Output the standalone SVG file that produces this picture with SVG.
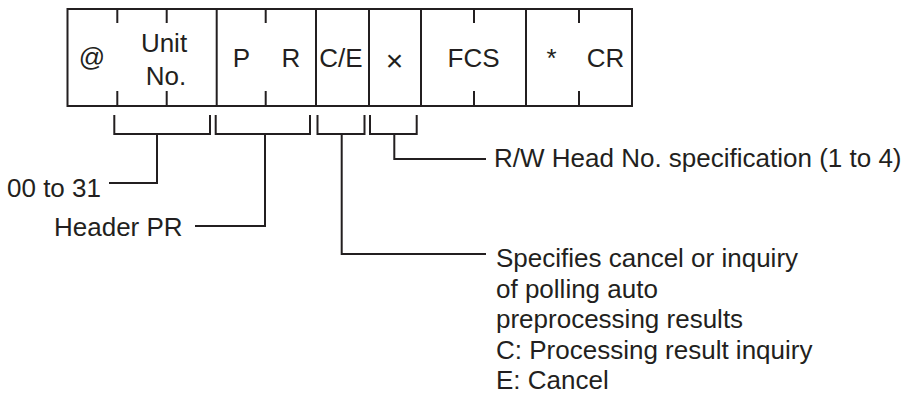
<svg xmlns="http://www.w3.org/2000/svg" width="912" height="398" viewBox="0 0 912 398">
<style>
.ln{fill:none;stroke:#231f20;stroke-width:2;stroke-linecap:butt;stroke-linejoin:miter}
.t{font-family:"Liberation Sans",Arial,Helvetica,sans-serif;font-size:26px;fill:#231f20}
.c{text-anchor:middle}
.x{font-size:30px}
</style>
<rect width="912" height="398" fill="#ffffff"/>
<g id="frame">
<rect class="ln" x="67.5" y="9" width="564.5" height="97"/>
</g>
<g id="cell-at">
<text class="t c" x="92" y="66">@</text>
</g>
<g id="cell-unit">
<line class="ln" x1="117.3" y1="9" x2="117.3" y2="23"/>
<line class="ln" x1="117.3" y1="91" x2="117.3" y2="106"/>
<line class="ln" x1="166.7" y1="9" x2="166.7" y2="23"/>
<line class="ln" x1="166.7" y1="91" x2="166.7" y2="106"/>
<text class="t c" x="164" y="52">Unit</text>
<text class="t c" x="166" y="84.5">No.</text>
</g>
<g id="cell-pr">
<line class="ln" x1="216.7" y1="9" x2="216.7" y2="106"/>
<line class="ln" x1="265.7" y1="9" x2="265.7" y2="23"/>
<line class="ln" x1="265.7" y1="91" x2="265.7" y2="106"/>
<text class="t c" x="241.5" y="67">P</text>
<text class="t c" x="291" y="67">R</text>
</g>
<g id="cell-ce">
<line class="ln" x1="316" y1="9" x2="316" y2="106"/>
<text class="t c" x="341" y="67">C/E</text>
</g>
<g id="cell-x">
<line class="ln" x1="369" y1="9" x2="369" y2="106"/>
<text class="t c x" x="394.5" y="70.5">×</text>
</g>
<g id="cell-fcs">
<line class="ln" x1="421" y1="9" x2="421" y2="106"/>
<line class="ln" x1="474" y1="9" x2="474" y2="23"/>
<line class="ln" x1="474" y1="91" x2="474" y2="106"/>
<text class="t c" x="473.5" y="67">FCS</text>
</g>
<g id="cell-cr">
<line class="ln" x1="526" y1="9" x2="526" y2="106"/>
<line class="ln" x1="579" y1="9" x2="579" y2="23"/>
<line class="ln" x1="579" y1="91" x2="579" y2="106"/>
<text class="t c" x="551.5" y="67">*</text>
<text class="t c" x="605.5" y="67">CR</text>
</g>
<g id="connectors">
<path class="ln" d="M114.3,115 V134 H210 V115"/>
<path class="ln" d="M157,134 V183 H109"/>
<path class="ln" d="M215.7,115 V134 H310 V115"/>
<path class="ln" d="M265,134 V226 H195"/>
<path class="ln" d="M317.5,115 V134 H364.5 V115"/>
<path class="ln" d="M341.7,134 V254 H486"/>
<path class="ln" d="M370,115 V134 H416.7 V115"/>
<path class="ln" d="M394.3,134 V159 H486"/>
</g>
<g id="label-unit">
<text class="t" x="7" y="196.5">00 to 31</text>
</g>
<g id="label-header">
<text class="t" x="54" y="236">Header PR</text>
</g>
<g id="label-head">
<text class="t" x="494" y="167">R/W Head No. specification (1 to 4)</text>
</g>
<g id="label-ce">
<text class="t" x="496" y="267">Specifies cancel or inquiry</text>
<text class="t" x="496" y="297.5">of polling auto</text>
<text class="t" x="496" y="328">preprocessing results</text>
<text class="t" x="496" y="358.5">C: Processing result inquiry</text>
<text class="t" x="496" y="389">E: Cancel</text>
</g>
</svg>
